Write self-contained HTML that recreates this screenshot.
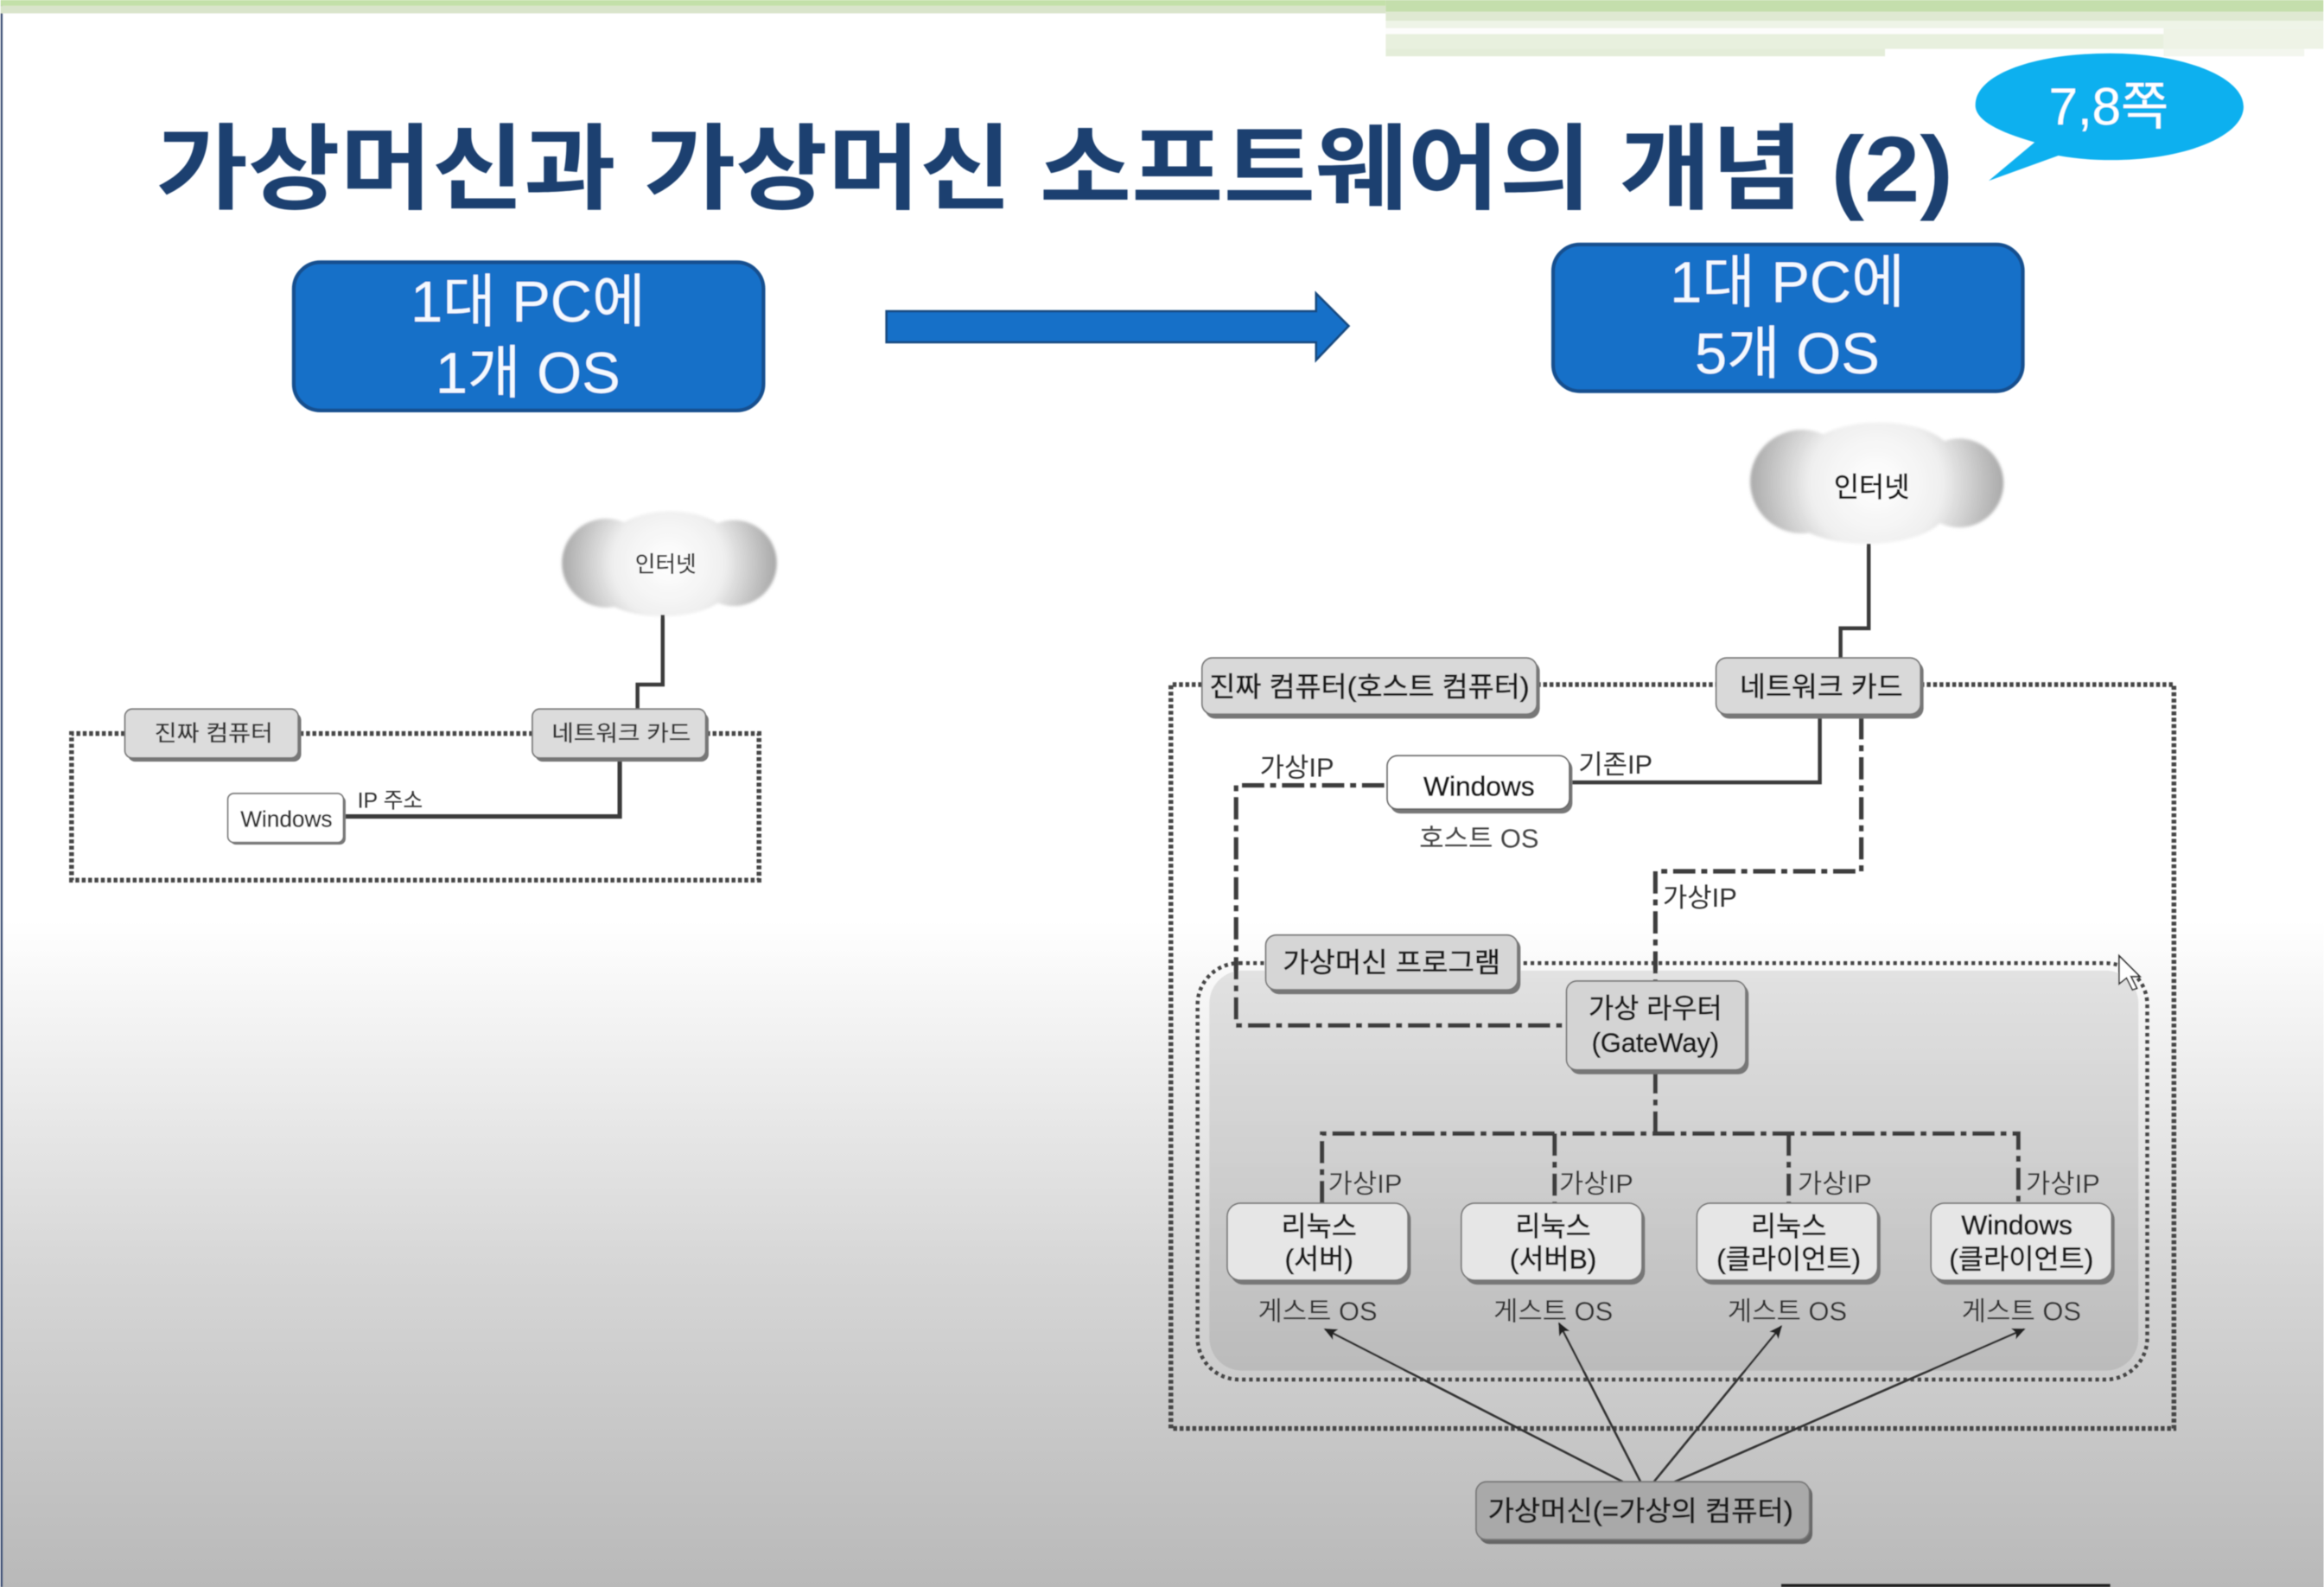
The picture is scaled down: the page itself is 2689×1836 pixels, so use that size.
<!DOCTYPE html>
<html lang="ko"><head><meta charset="utf-8"><title>가상머신과 가상머신 소프트웨어의 개념 (2)</title>
<style>
html,body{margin:0;padding:0;width:2689px;height:1836px;overflow:hidden;background:#fff}
svg{display:block}
text{font-family:"Liberation Sans","Noto Sans CJK KR",sans-serif;fill:#222}
.m{text-anchor:middle}
.l{font-size:18px;fill:#333}
.b{font-size:18.5px;fill:#1c1c1c;text-anchor:middle;stroke:#1c1c1c;stroke-width:.35}
.sm{font-size:15px;fill:#333;text-anchor:middle;stroke:#333;stroke-width:.2}
.dot{fill:none;stroke:#444;stroke-width:3.2;stroke-dasharray:2.6 1.7}
.dot2{fill:none;stroke:#444;stroke-width:2.6;stroke-dasharray:2.4 2.4}
.dd{fill:none;stroke:#3c3c3c;stroke-width:3;stroke-dasharray:15 4 4 4}
.sol{fill:none;stroke:#3a3a3a;stroke-width:2.6}
.arr{stroke:#333;stroke-width:1.5;fill:none;marker-end:url(#ah)}
</style></head><body>
<svg xmlns="http://www.w3.org/2000/svg" width="2689" height="1836" viewBox="0 0 1568 1071">
<defs>
<linearGradient id="bg" x1="0" y1="0" x2="0" y2="1"><stop offset="0" stop-color="#fff"/><stop offset=".58" stop-color="#fff"/><stop offset=".67" stop-color="#eeeeee"/><stop offset=".8" stop-color="#d6d6d6"/><stop offset="1" stop-color="#b9b9b9"/></linearGradient>
<linearGradient id="inner" x1="0" y1="0" x2="0" y2="1"><stop offset="0" stop-color="#e2e2e2"/><stop offset="1" stop-color="#bbbbbb"/></linearGradient>
<radialGradient id="cl1" gradientUnits="userSpaceOnUse" cx="451" cy="380" r="74"><stop offset="0" stop-color="#fff"/><stop offset=".5" stop-color="#f0f0f0"/><stop offset="1" stop-color="#a6a6a6"/></radialGradient>
<radialGradient id="cl2" gradientUnits="userSpaceOnUse" cx="1266" cy="326" r="88"><stop offset="0" stop-color="#fff"/><stop offset=".5" stop-color="#f0f0f0"/><stop offset="1" stop-color="#a6a6a6"/></radialGradient>
<marker id="ah" markerWidth="9" markerHeight="9" refX="8" refY="4" orient="auto" markerUnits="userSpaceOnUse"><path d="M0 0L9 4L0 8L2 4Z" fill="#222"/></marker>
<filter id="soft" x="0" y="0" width="100%" height="100%"><feGaussianBlur stdDeviation=".35"/></filter>
<filter id="cb" x="-10%" y="-10%" width="120%" height="120%"><feGaussianBlur stdDeviation="1"/></filter>
</defs>
<rect width="1568" height="1071" fill="url(#bg)"/>
<g filter="url(#soft)">
<rect x="0" y="0" width="1.5" height="1071" fill="#46597c"/>
<!-- top band -->
<rect x="0" y="0" width="935" height="4" fill="#c3e0a9"/>
<rect x="0" y="4" width="935" height="5" fill="#d9e4cb"/>
<rect x="935" y="0" width="633" height="8" fill="#c4deac"/>
<rect x="935" y="8" width="633" height="6" fill="#dfe9d2"/>
<rect x="935" y="14" width="633" height="5" fill="#eef4e7"/>
<rect x="935" y="19" width="525" height="4" fill="#fdfdfc"/>
<rect x="1460" y="19" width="108" height="14" fill="#eef3e6"/>
<rect x="1460" y="33" width="95" height="5" fill="#f3f6ee"/>
<rect x="935" y="23" width="525" height="10" fill="#e8f0de"/>
<rect x="935" y="33" width="337" height="5" fill="#e4edd9"/>
<!-- title -->
<text x="105" y="136" textLength="1213" lengthAdjust="spacingAndGlyphs" style="font-size:63px;font-weight:700;fill:#1b3f70">가상머신과 가상머신 소프트웨어의 개념 (2)</text>
<!-- callout -->
<path d="M1342 122L1373 96C1345 88 1333 80 1333 71C1333 50 1373 36 1424 36C1474 36 1514 52 1514 72C1514 92 1474 108 1425 108C1412 108 1400 107 1389 105Z" fill="#0cb0ef"/>
<text x="1423" y="84" class="m" style="font-size:35px;fill:#fff">7,8쪽</text>
<!-- blue boxes -->
<rect x="198" y="177" width="317" height="100" rx="18" fill="#1270c8" stroke="#15508f" stroke-width="2.5"/>
<text x="356" y="217" class="m" style="font-size:39px;fill:#f4f9ff">1대 PC에</text>
<text x="356" y="265" class="m" style="font-size:39px;fill:#f4f9ff">1개 OS</text>
<rect x="1048" y="165" width="317" height="99" rx="18" fill="#1270c8" stroke="#15508f" stroke-width="2.5"/>
<text x="1206" y="204" class="m" style="font-size:39px;fill:#f4f9ff">1대 PC에</text>
<text x="1206" y="252" class="m" style="font-size:39px;fill:#f4f9ff">5개 OS</text>
<!-- big arrow -->
<path d="M598 210H888V198L910 220L888 243V231H598Z" fill="#1270c8" stroke="#17487f" stroke-width="1.5"/>

<!-- LEFT DIAGRAM -->
<g filter="url(#cb)" fill="url(#cl1)">
<circle cx="409" cy="380" r="30"/><circle cx="495" cy="380" r="29"/>
<ellipse cx="452" cy="368" rx="42" ry="23"/><ellipse cx="447" cy="394" rx="46" ry="22"/>
<rect x="405" y="365" width="90" height="30"/>
</g>
<text x="449" y="386" class="sm">인터넷</text>
<path class="sol" d="M447 415V462H430V478"/>
<path class="dot" d="M84 495H48V594H512V495H477"/>
<path class="dot" d="M202 495H359"/>
<path class="sol" d="M418 513V551H233" style="stroke-width:3"/>
<rect x="86" y="481" width="117" height="33" rx="5" fill="#777"/>
<rect x="84" y="478.500" width="117" height="33" rx="5" fill="#dcdcdc" stroke="#777" stroke-width="1"/>
<text x="144" y="500" class="sm" textLength="80" lengthAdjust="spacingAndGlyphs">진짜 컴퓨터</text>
<rect x="361" y="481" width="117" height="33" rx="5" fill="#777"/>
<rect x="359" y="478.500" width="117" height="33" rx="5" fill="#dcdcdc" stroke="#777" stroke-width="1"/>
<text x="419" y="500" class="sm" textLength="94" lengthAdjust="spacingAndGlyphs">네트워크 카드</text>
<rect x="155" y="537" width="78" height="33" rx="4" fill="#777"/>
<rect x="153.500" y="535.500" width="78" height="33" rx="4" fill="#fff" stroke="#777" stroke-width="1"/>
<text x="193" y="558" class="sm" textLength="62" lengthAdjust="spacingAndGlyphs">Windows</text>
<text x="241" y="545" style="font-size:14.5px;fill:#333">IP 주소</text>

<!-- RIGHT DIAGRAM -->
<rect x="816" y="655" width="627" height="270" rx="22" fill="url(#inner)"/>
<rect x="808" y="650" width="641" height="281" rx="28" class="dot2"/>
<path class="dot" d="M811 462H790V964H1467V462H1297"/>
<path class="dot" d="M1037 462H1158"/>
<g filter="url(#cb)" fill="url(#cl2)">
<circle cx="1216" cy="325" r="35"/><circle cx="1322" cy="326" r="30"/>
<ellipse cx="1268" cy="309" rx="50" ry="24"/><ellipse cx="1260" cy="343" rx="54" ry="24"/>
<rect x="1215" y="305" width="105" height="40"/>
</g>
<text x="1263" y="335" class="b">인터넷</text>
<path class="sol" d="M1261 367V424H1242V444"/>
<path class="sol" d="M1228 484V528H1061"/>
<path class="dd" d="M934 530H834V692H1057"/>
<path class="dd" d="M1256 484V588H1117V662"/>
<path class="dd" d="M1117 723V765"/>
<path class="dd" d="M892 812V765H1362V812" />
<path class="dd" d="M1049 765V812M1207 765V812"/>
<text x="850" y="524" class="l">가상IP</text>
<text x="1065" y="522" class="l">기존IP</text>
<text x="1122" y="612" class="l">가상IP</text>
<text x="896" y="805" class="l">가상IP</text>
<text x="1052" y="805" class="l">가상IP</text>
<text x="1213" y="805" class="l">가상IP</text>
<text x="1367" y="805" class="l">가상IP</text>

<rect x="813" y="446" width="226" height="39" rx="7" fill="#777"/>
<rect x="811" y="444" width="226" height="38" rx="7" fill="#d9d9d9" stroke="#777"/>
<text x="924" y="470" class="b" textLength="216" lengthAdjust="spacingAndGlyphs">진짜 컴퓨터(호스트 컴퓨터)</text>
<rect x="1160" y="446" width="138" height="39" rx="7" fill="#777"/>
<rect x="1158" y="444" width="138" height="38" rx="7" fill="#d9d9d9" stroke="#777"/>
<text x="1229" y="470" class="b" textLength="110" lengthAdjust="spacingAndGlyphs">네트워크 카드</text>
<rect x="938" y="512" width="123" height="37" rx="7" fill="#777"/>
<rect x="936" y="510" width="123" height="36" rx="7" fill="#fff" stroke="#666"/>
<text x="998" y="537" class="b">Windows</text>
<text x="998" y="572" class="m" style="font-size:18px;fill:#444">호스트 OS</text>

<rect x="856" y="633" width="170" height="38" rx="7" fill="#777"/>
<rect x="854" y="631" width="170" height="37" rx="7" fill="#d6d6d6" stroke="#777"/>
<text x="939" y="656" class="b" textLength="147" lengthAdjust="spacingAndGlyphs">가상머신 프로그램</text>
<rect x="1059" y="664" width="121" height="61" rx="7" fill="#777"/>
<rect x="1057" y="662" width="121" height="60" rx="7" fill="#d4d4d4" stroke="#777"/>
<text x="1117" y="687" class="b">가상 라우터</text>
<text x="1117" y="710" class="b" textLength="86" lengthAdjust="spacingAndGlyphs">(GateWay)</text>

<rect x="830" y="814" width="122" height="53" rx="9" fill="#777"/>
<rect x="828" y="812" width="122" height="52" rx="9" fill="#e6e6e6" stroke="#777"/>
<text x="890" y="834" class="b">리눅스</text><text x="890" y="856" class="b">(서버)</text>
<rect x="988" y="814" width="122" height="53" rx="9" fill="#777"/>
<rect x="986" y="812" width="122" height="52" rx="9" fill="#e6e6e6" stroke="#777"/>
<text x="1048" y="834" class="b">리눅스</text><text x="1048" y="856" class="b">(서버B)</text>
<rect x="1147" y="814" width="122" height="53" rx="9" fill="#777"/>
<rect x="1145" y="812" width="122" height="52" rx="9" fill="#e6e6e6" stroke="#777"/>
<text x="1207" y="834" class="b">리눅스</text><text x="1207" y="856" class="b">(클라이언트)</text>
<rect x="1305" y="814" width="122" height="53" rx="9" fill="#777"/>
<rect x="1303" y="812" width="122" height="52" rx="9" fill="#e6e6e6" stroke="#777"/>
<text x="1361" y="833" class="b">Windows</text><text x="1364" y="856" class="b">(클라이언트)</text>

<text x="889" y="891" class="m" style="font-size:18px;fill:#333">게스트 OS</text>
<text x="1048" y="891" class="m" style="font-size:18px;fill:#333">게스트 OS</text>
<text x="1206" y="891" class="m" style="font-size:18px;fill:#333">게스트 OS</text>
<text x="1364" y="891" class="m" style="font-size:18px;fill:#333">게스트 OS</text>

<line class="arr" x1="1095" y1="1000" x2="894" y2="897"/>
<line class="arr" x1="1107" y1="1000" x2="1052" y2="893"/>
<line class="arr" x1="1116" y1="1000" x2="1202" y2="895"/>
<line class="arr" x1="1130" y1="1000" x2="1366" y2="897"/>

<rect x="998" y="1002" width="225" height="40" rx="7" fill="#666"/>
<rect x="996" y="1000" width="225" height="39" rx="7" fill="#a9a9a9" stroke="#777"/>
<text x="1107" y="1026" class="b" textLength="206" lengthAdjust="spacingAndGlyphs">가상머신(=가상의 컴퓨터)</text>

<!-- cursor -->
<path d="M1430 645V664L1435 660L1439 668L1442 667L1438 659L1444 659Z" fill="#fff" stroke="#333" stroke-width="1"/>
<rect x="1202" y="1069" width="222" height="2" fill="#222"/>
</g>
</svg>
</body></html>
